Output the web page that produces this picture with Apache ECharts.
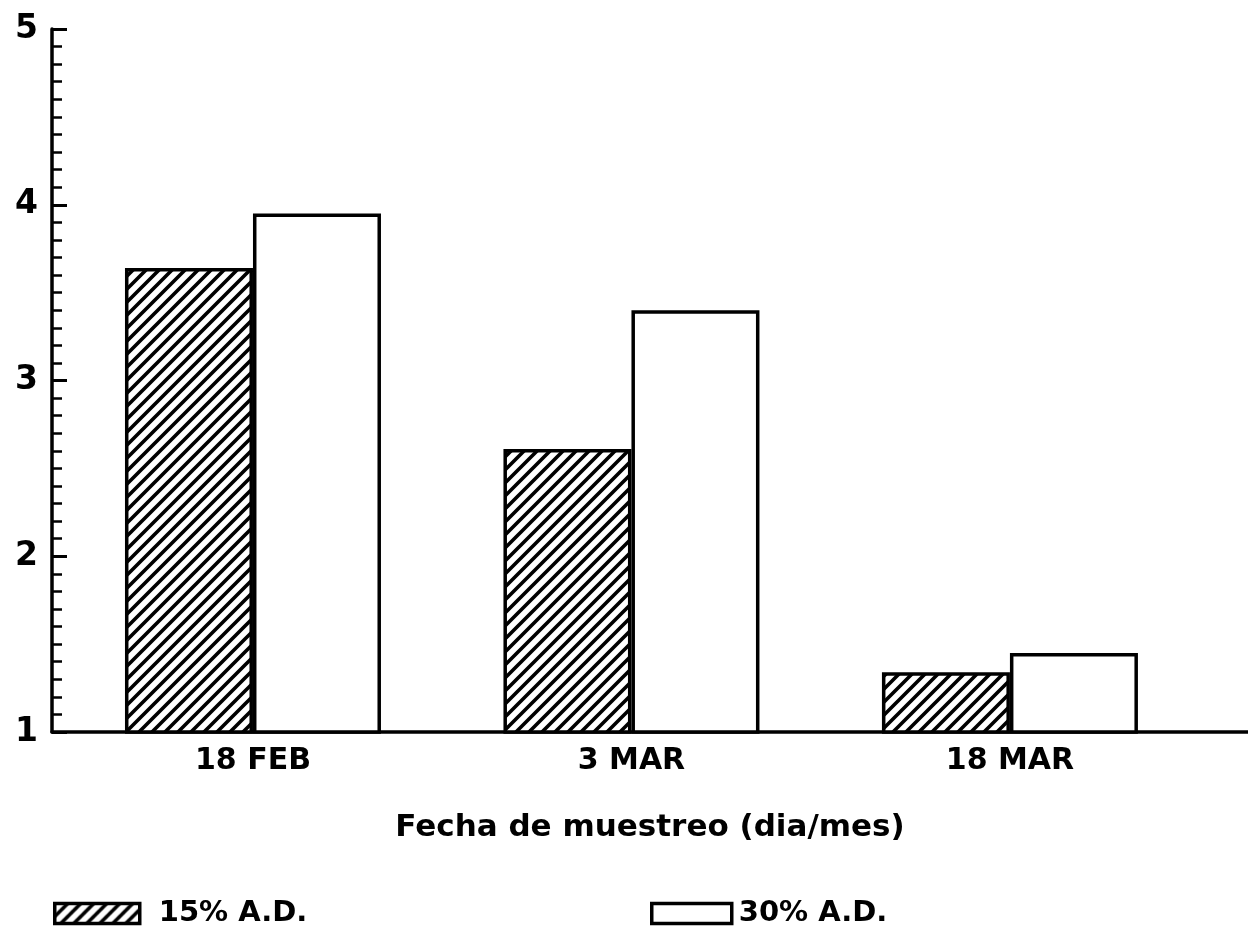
<!DOCTYPE html>
<html lang="es">
<head>
    <meta charset="UTF-8">
    <title>Fecha de muestreo</title>
    <script src="https://cdn.jsdelivr.net/npm/echarts@6/dist/echarts.min.js"></script>
    <style>
        html, body {
            margin: 0;
            padding: 0;
            background: #fff;
        }
        #main {
            width: 1248px;
            height: 928px;
        }
    </style>
</head>
<body>
<div id="main"></div>
<script>
    // datos
    var fechas = ['18 FEB', '3 MAR', '18 MAR'];
    var posiciones = [0, 1, 2];
    var ad15 = [3.64, 2.61, 1.34];
    var ad30 = [3.95, 3.40, 1.45];
    var nombres = ['15% A.D.', '30% A.D.'];

    // rayado diagonal para la serie 15%
    function hatch() {
        var s = 13;
        var c = document.createElement('canvas');
        c.width = s;
        c.height = s;
        var ctx = c.getContext('2d');
        ctx.fillStyle = '#fff';
        ctx.fillRect(0, 0, s, s);
        ctx.strokeStyle = '#000';
        ctx.lineWidth = 3.6;
        ctx.beginPath();
        ctx.moveTo(-1, s + 1); ctx.lineTo(s + 1, -1);
        ctx.moveTo(-s / 2 - 1, s / 2 + 1); ctx.lineTo(s / 2 + 1, -s / 2 - 1);
        ctx.moveTo(s / 2 - 1, 3 * s / 2 + 1); ctx.lineTo(3 * s / 2 + 1, s / 2 - 1);
        ctx.stroke();
        return c;
    }

    var font = 'DejaVu Sans';
    var chart = echarts.init(document.getElementById('main'), null, {renderer: 'canvas'});

    chart.setOption({
        animation: false,
        backgroundColor: '#fff',
        grid: {left: 52, right: 0, top: 29, bottom: 196},
        legend: [
            {
                data: [nombres[0]], left: 48, top: 894, icon: 'rect',
                itemWidth: 85, itemHeight: 20,
                itemStyle: {borderWidth: 3.5, borderColor: '#000'},
                textStyle: {fontFamily: font, fontWeight: 'bold', fontSize: 29, color: '#000', padding: [0, 0, 0, 14]}
            },
            {
                data: [nombres[1]], left: 645, top: 894, icon: 'rect',
                itemWidth: 80, itemHeight: 20,
                itemStyle: {borderWidth: 3.5, borderColor: '#000'},
                textStyle: {fontFamily: font, fontWeight: 'bold', fontSize: 29, color: '#000', padding: [0, 0, 0, 2]}
            }
        ],
        xAxis: {
            type: 'value',
            min: -0.531,
            max: 2.629,
            name: 'Fecha de muestreo (dia/mes)',
            nameLocation: 'middle',
            nameGap: 80,
            nameTextStyle: {fontFamily: font, fontWeight: 'bold', fontSize: 31, color: '#000'},
            axisLine: {onZero: false, lineStyle: {color: '#000', width: 3.5}},
            axisTick: {show: false},
            splitLine: {show: false},
            axisLabel: {
                customValues: posiciones,
                margin: 14,
                fontFamily: font, fontWeight: 'bold', fontSize: 30, color: '#000',
                formatter: function (v) {
                    return fechas[Math.round(v)];
                }
            }
        },
        yAxis: {
            type: 'value',
            min: 1,
            max: 5,
            interval: 1,
            axisLine: {show: true, onZero: false, lineStyle: {color: '#000', width: 3.5}},
            axisTick: {show: true, inside: true, length: 15, lineStyle: {color: '#000', width: 3}},
            minorTick: {show: true, splitNumber: 10, length: 10, lineStyle: {color: '#000', width: 2.5}},
            splitLine: {show: false},
            axisLabel: {margin: 14, fontFamily: font, fontWeight: 'bold', fontSize: 33, color: '#000'}
        },
        series: [
            {
                name: nombres[0],
                type: 'bar',
                barWidth: 128,
                barGap: '0%',
                data: posiciones.map(function (p, i) { return [p, ad15[i]]; }),
                itemStyle: {
                    color: {image: hatch(), repeat: 'repeat'},
                    borderColor: '#000',
                    borderWidth: 3.5
                }
            },
            {
                name: nombres[1],
                type: 'bar',
                barWidth: 128,
                barGap: '0%',
                data: posiciones.map(function (p, i) { return [p, ad30[i]]; }),
                itemStyle: {
                    color: '#fff',
                    borderColor: '#000',
                    borderWidth: 3.5
                }
            }
        ]
    });
</script>
</body>
</html>
